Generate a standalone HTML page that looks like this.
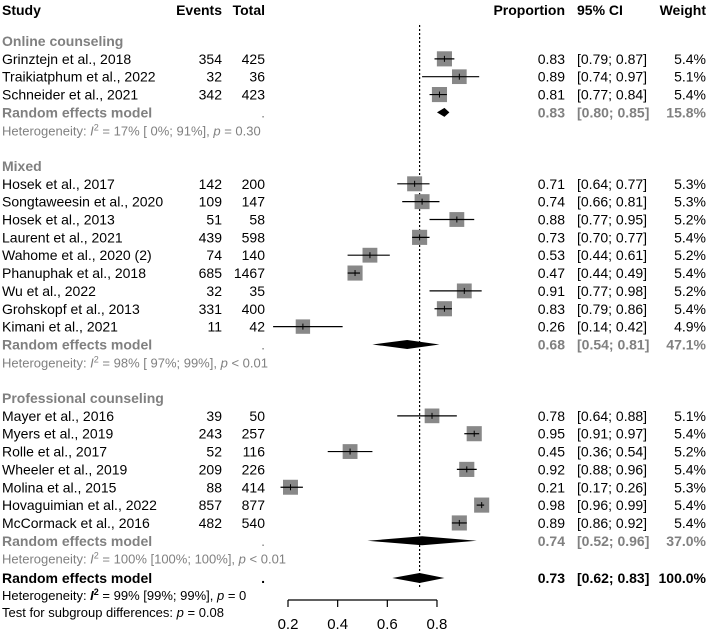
<!DOCTYPE html>
<html><head><meta charset="utf-8"><style>
body{margin:0;background:#fff}
svg{font-family:"Liberation Sans",Arial,sans-serif;display:block}
</style></head><body>
<svg id="plot" width="708" height="635" xmlns="http://www.w3.org/2000/svg">
<g font-size="14" font-weight="bold">
<text x="2" y="15">Study</text>
<text x="222" y="15" text-anchor="end">Events</text>
<text x="265" y="15" text-anchor="end">Total</text>
<text x="565" y="15" text-anchor="end">Proportion</text>
<text x="577" y="15">95% CI</text>
<text x="706" y="15" text-anchor="end">Weight</text>
</g>
<g id="rows"></g>
</svg>
<script>
const studies=["Grinztejn et al., 2018","Traikiatphum et al., 2022","Schneider et al., 2021","Hosek et al., 2017","Songtaweesin et al., 2020","Hosek et al., 2013","Laurent et al., 2021","Wahome et al., 2020 (2)","Phanuphak et al., 2018","Wu et al., 2022","Grohskopf et al., 2013","Kimani et al., 2021","Mayer et al., 2016","Myers et al., 2019","Rolle et al., 2017","Wheeler et al., 2019","Molina et al., 2015","Hovaguimian et al., 2022","McCormack et al., 2016"];
const groupOf=[0,0,0,1,1,1,1,1,1,1,1,1,2,2,2,2,2,2,2];
const events=[354,32,342,142,109,51,439,74,685,32,331,11,39,243,52,209,88,857,482];
const totals=[425,36,423,200,147,58,598,140,1467,35,400,42,50,257,116,226,414,877,540];
const props=[0.83,0.89,0.81,0.71,0.74,0.88,0.73,0.53,0.47,0.91,0.83,0.26,0.78,0.95,0.45,0.92,0.21,0.98,0.89];
const lower=[0.79,0.74,0.77,0.64,0.66,0.77,0.70,0.44,0.44,0.77,0.79,0.14,0.64,0.91,0.36,0.88,0.17,0.96,0.86];
const upper=[0.87,0.97,0.84,0.77,0.81,0.95,0.77,0.61,0.49,0.98,0.86,0.42,0.88,0.97,0.54,0.96,0.26,0.99,0.92];
const weights=[5.4,5.1,5.4,5.3,5.3,5.2,5.4,5.2,5.4,5.2,5.4,4.9,5.1,5.4,5.2,5.4,5.3,5.4,5.4];
const groups=["Online counseling","Mixed","Professional counseling"];
const groupEst=[0.83,0.68,0.74];
const groupLo=[0.80,0.54,0.52];
const groupHi=[0.85,0.81,0.96];
const groupW=["15.8%","47.1%","37.0%"];
const groupHet=[["17%","[ 0%; 91%]","= 0.30"],["98%","[ 97%; 99%]","< 0.01"],["100%","[100%; 100%]","< 0.01"]];
const overall=[0.73,0.62,0.83];
const ticks=[0.2,0.4,0.6,0.8];

const NS="http://www.w3.org/2000/svg";
const svg=document.getElementById('rows');
const x=v=>288+(v-0.2)*248.3;
const f2=v=>v.toFixed(2);
const STEP=17.85;
function mk(tag,attrs,parent){const e=document.createElementNS(NS,tag);for(const k in attrs)e.setAttribute(k,attrs[k]);(parent||svg).appendChild(e);return e;}
function txt(s,xx,y,opts,name){const e=mk('text',Object.assign({x:xx,y:y,'font-size':14},opts||{}));e.innerHTML=s;


return e;}
function diamond(c,lo,hi,y,h,name){const e=mk('polygon',{points:`${x(lo)},${y} ${x(c)},${y-h} ${x(hi)},${y} ${x(c)},${y+h}`,fill:'#000'});

}

const ref=mk('line',{x1:x(overall[0]),x2:x(overall[0]),y1:25,y2:588,stroke:'#000','stroke-dasharray':'2,2','stroke-width':1.2});



let y=41;
for(let g=0;g<3;g++){
  txt(groups[g],2,y+5,{'font-weight':'bold',fill:'#808080'},'group-title');
  y+=STEP;
  for(let i=0;i<studies.length;i++){ if(groupOf[i]!==g) continue;
    txt(studies[i],2,y+5,{},'study-label');
    txt(events[i],222,y+5,{'text-anchor':'end'},'events-value');
    txt(totals[i],265,y+5,{'text-anchor':'end'},'total-value');
    txt(f2(props[i]),565,y+5,{'text-anchor':'end'},'proportion-value');
    txt('['+f2(lower[i])+'; '+f2(upper[i])+']',577,y+5,{},'ci-value');
    txt(weights[i].toFixed(1)+'%',706,y+5,{'text-anchor':'end'},'weight-value');
    const s=Math.sqrt(weights[i])*6.5;
    const sq=mk('rect',{x:x(props[i])-s/2,y:y-s/2,width:s,height:s,fill:'#888'});
    
    
    const ln=mk('line',{x1:x(lower[i]),x2:x(upper[i]),y1:y,y2:y,stroke:'#000','stroke-width':1.2});
    
    
    const tk=mk('line',{x1:x(props[i]),x2:x(props[i]),y1:y-3,y2:y+3,stroke:'#000','stroke-width':1});
    
    
    y+=STEP;
  }
  txt('Random effects model',2,y+5,{'font-weight':'bold',fill:'#808080'},'subgroup-model-label');
  txt('.',265,y+5,{'text-anchor':'end',fill:'#808080'},'subgroup-dot');
  txt(f2(groupEst[g]),565,y+5,{'text-anchor':'end','font-weight':'bold',fill:'#808080'},'subgroup-proportion');
  txt('['+f2(groupLo[g])+'; '+f2(groupHi[g])+']',577,y+5,{'font-weight':'bold',fill:'#808080'},'subgroup-ci');
  txt(groupW[g],706,y+5,{'text-anchor':'end','font-weight':'bold',fill:'#808080'},'subgroup-weight');
  diamond(groupEst[g],groupLo[g],groupHi[g],y,4.5,'subgroup-diamond');
  y+=STEP;
  txt('Heterogeneity: <tspan font-style="italic">I</tspan><tspan dy="-5" font-size="9">2</tspan><tspan dy="5"> = '+groupHet[g][0]+' '+groupHet[g][1]+', </tspan><tspan font-style="italic">p</tspan> '+groupHet[g][2],2,y+5,{'font-size':13,fill:'#808080'},'subgroup-heterogeneity');
  y+=2*STEP;
}
y=578;
txt('Random effects model',2,y+5,{'font-weight':'bold'},'overall-model-label');
txt('.',265,y+5,{'text-anchor':'end','font-weight':'bold'},'overall-dot');
txt(f2(overall[0]),565,y+5,{'text-anchor':'end','font-weight':'bold'},'overall-proportion');
txt('['+f2(overall[1])+'; '+f2(overall[2])+']',577,y+5,{'font-weight':'bold'},'overall-ci');
txt('100.0%',706,y+5,{'text-anchor':'end','font-weight':'bold'},'overall-weight');
diamond(overall[0],overall[1],overall[2],y,5,'overall-diamond');
txt('Heterogeneity: <tspan font-style="italic" font-weight="bold">I</tspan><tspan dy="-5" font-size="9" font-weight="bold">2</tspan><tspan dy="5"> = 99% [99%; 99%], </tspan><tspan font-style="italic">p</tspan> = 0',2,600,{'font-size':13},'overall-heterogeneity');
txt('Test for subgroup differences:  <tspan font-style="italic">p</tspan> = 0.08',2,617,{'font-size':13},'subgroup-test');

const ax=mk('line',{x1:x(ticks[0]),x2:x(ticks[ticks.length-1]),y1:600,y2:600,stroke:'#000','stroke-width':1.2});


ticks.forEach(t=>{
  const l=mk('line',{x1:x(t),x2:x(t),y1:600,y2:607,stroke:'#000','stroke-width':1.2});
  
  
  txt(t.toFixed(1),x(t),629,{'text-anchor':'middle','font-size':15},'x-tick-label');
});
</script>
</body></html>
